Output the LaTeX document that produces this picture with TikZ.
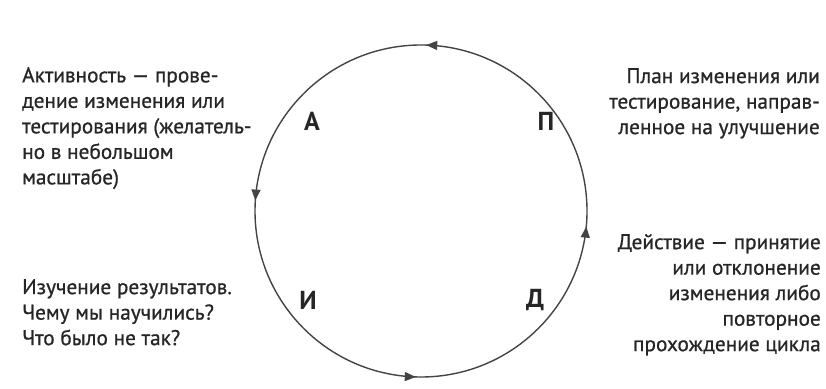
\documentclass[tikz,border=0pt]{standalone}
\usepackage{fontspec}
\setmainfont{PT Sans}
\usetikzlibrary{arrows.meta,decorations.markings}
\definecolor{ink}{HTML}{262626}
\definecolor{ring}{HTML}{444444}
\tikzset{
  txt/.style={inner sep=0pt, text=ink, font=\fontsize{21.3}{25.5}\selectfont\addfontfeature{FakeBold=0.8}},
  letter/.style={inner sep=0pt, text=ink, font=\fontsize{26}{28}\selectfont\bfseries},
}
\begin{document}
\begin{tikzpicture}[x=1pt,y=1pt]
\useasboundingbox (0,0) rectangle (826,388);
\coordinate (c) at (421,177);
\draw[ring, line width=1.4pt,
  postaction={decorate},
  decoration={markings,
    mark=at position 0.245 with {\arrow[ring]{Triangle[length=11pt,width=9pt]}},
    mark=at position 0.49 with {\arrow[ring]{Triangle[length=11pt,width=9pt]}},
    mark=at position 0.745 with {\arrow[ring]{Triangle[length=11pt,width=9pt]}},
    mark=at position 0.985 with {\arrow[ring]{Triangle[length=11pt,width=9pt]}}}]
  (c) circle[radius=166];
\node[letter] (a) at (312,267) {А};
\node[letter] (p) at (546,267) {П};
\node[letter] (i) at (308,88) {И};
\node[letter] (d) at (535,88) {Д};
\node[txt, anchor=north west, align=left] (ta) at (22,321) {Активность — прове-\\дение изменения или\\тестирования (желатель-\\но в небольшом\\масштабе)};
\node[txt, anchor=north east, align=right] (tp) at (820,320) {План изменения или\\тестирование, направ-\\ленное на улучшение};
\node[txt, anchor=north east, align=right] (td) at (821,154) {Действие — принятие\\или отклонение\\изменения либо\\повторное\\прохождение цикла};
\node[txt, anchor=north west, align=left] (ti) at (22,109) {Изучение результатов.\\Чему мы научились?\\Что было не так?};
\end{tikzpicture}
\end{document}
